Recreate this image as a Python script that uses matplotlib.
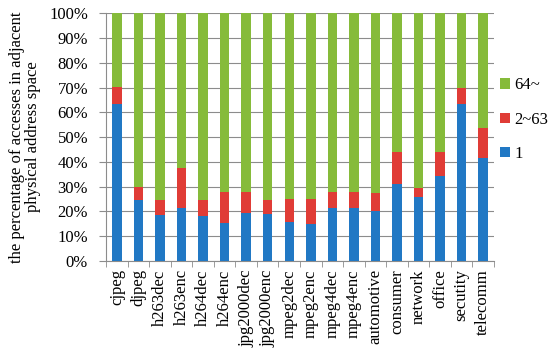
import numpy as np
import matplotlib
matplotlib.use('Agg')
import matplotlib.pyplot as plt
from matplotlib.ticker import FixedLocator, PercentFormatter

plt.rcParams['font.family'] = ['Liberation Serif', 'DejaVu Serif']

# benchmarks
categories = ['cjpeg', 'djpeg', 'h263dec', 'h263enc', 'h264dec', 'h264enc',
              'jpg2000dec', 'jpg2000enc', 'mpeg2dec', 'mpeg2enc', 'mpeg4dec',
              'mpeg4enc', 'automotive', 'consumer', 'network', 'office',
              'secutity', 'telecomm']

# share (%) of accesses for each run length
one = [63.3, 24.6, 18.6, 21.5, 18.2, 15.2, 19.2, 19.0, 15.9, 15.0,
       21.5, 21.3, 20.0, 31.0, 26.0, 34.3, 63.4, 41.5]
two_63 = [6.9, 5.4, 6.0, 16.2, 6.4, 12.8, 8.8, 5.6, 9.0, 9.8,
          6.5, 6.7, 7.3, 13.0, 3.5, 9.7, 6.3, 12.3]
many = [100 - a - b for a, b in zip(one, two_63)]

x = np.arange(len(categories))
w = 0.44
fs = 12

fig, ax = plt.subplots(figsize=(5.5, 3.56), dpi=100)
fig.subplots_adjust(left=0.193, right=0.898, top=0.963, bottom=0.267)

b1 = ax.bar(x, one, w, color='#2178c4', zorder=3)
b2 = ax.bar(x, two_63, w, bottom=one, color='#e03c36', zorder=3)
b3 = ax.bar(x, many, w, bottom=np.add(one, two_63), color='#86bb3a', zorder=3)

ax.set_xlim(-0.5, len(categories) - 0.5)
ax.set_ylim(0, 100)
ax.set_yticks(np.arange(0, 101, 10))
ax.yaxis.set_major_formatter(PercentFormatter(decimals=0))
ax.yaxis.grid(True, color='#8c8c8c', linewidth=0.8, zorder=0)

ax.set_xticks(x)
ax.set_xticklabels(categories, rotation=90)
ax.xaxis.set_minor_locator(FixedLocator(np.arange(-0.5, len(categories), 1)))
ax.tick_params(axis='x', which='major', length=0, pad=6, labelsize=fs)
ax.tick_params(axis='x', which='minor', length=4, color='#8c8c8c')
ax.tick_params(axis='y', length=5, color='#8c8c8c', labelsize=fs, pad=8)

for s in ['top', 'right']:
    ax.spines[s].set_visible(False)
for s in ['left', 'bottom']:
    ax.spines[s].set_color('#8c8c8c')

ax.set_ylabel('the percentage of accesses in adjacent\nphysical address space',
              fontsize=fs, linespacing=0.95, labelpad=6)

ax.legend([b3, b2, b1], ['64~', '2~63', '1'], loc='center left',
          bbox_to_anchor=(0.99, 0.57), frameon=False, fontsize=fs,
          handlelength=0.6, handleheight=0.6, handletextpad=0.25,
          labelspacing=1.1, borderaxespad=0.2)

fig.savefig('out.png', dpi=100)
